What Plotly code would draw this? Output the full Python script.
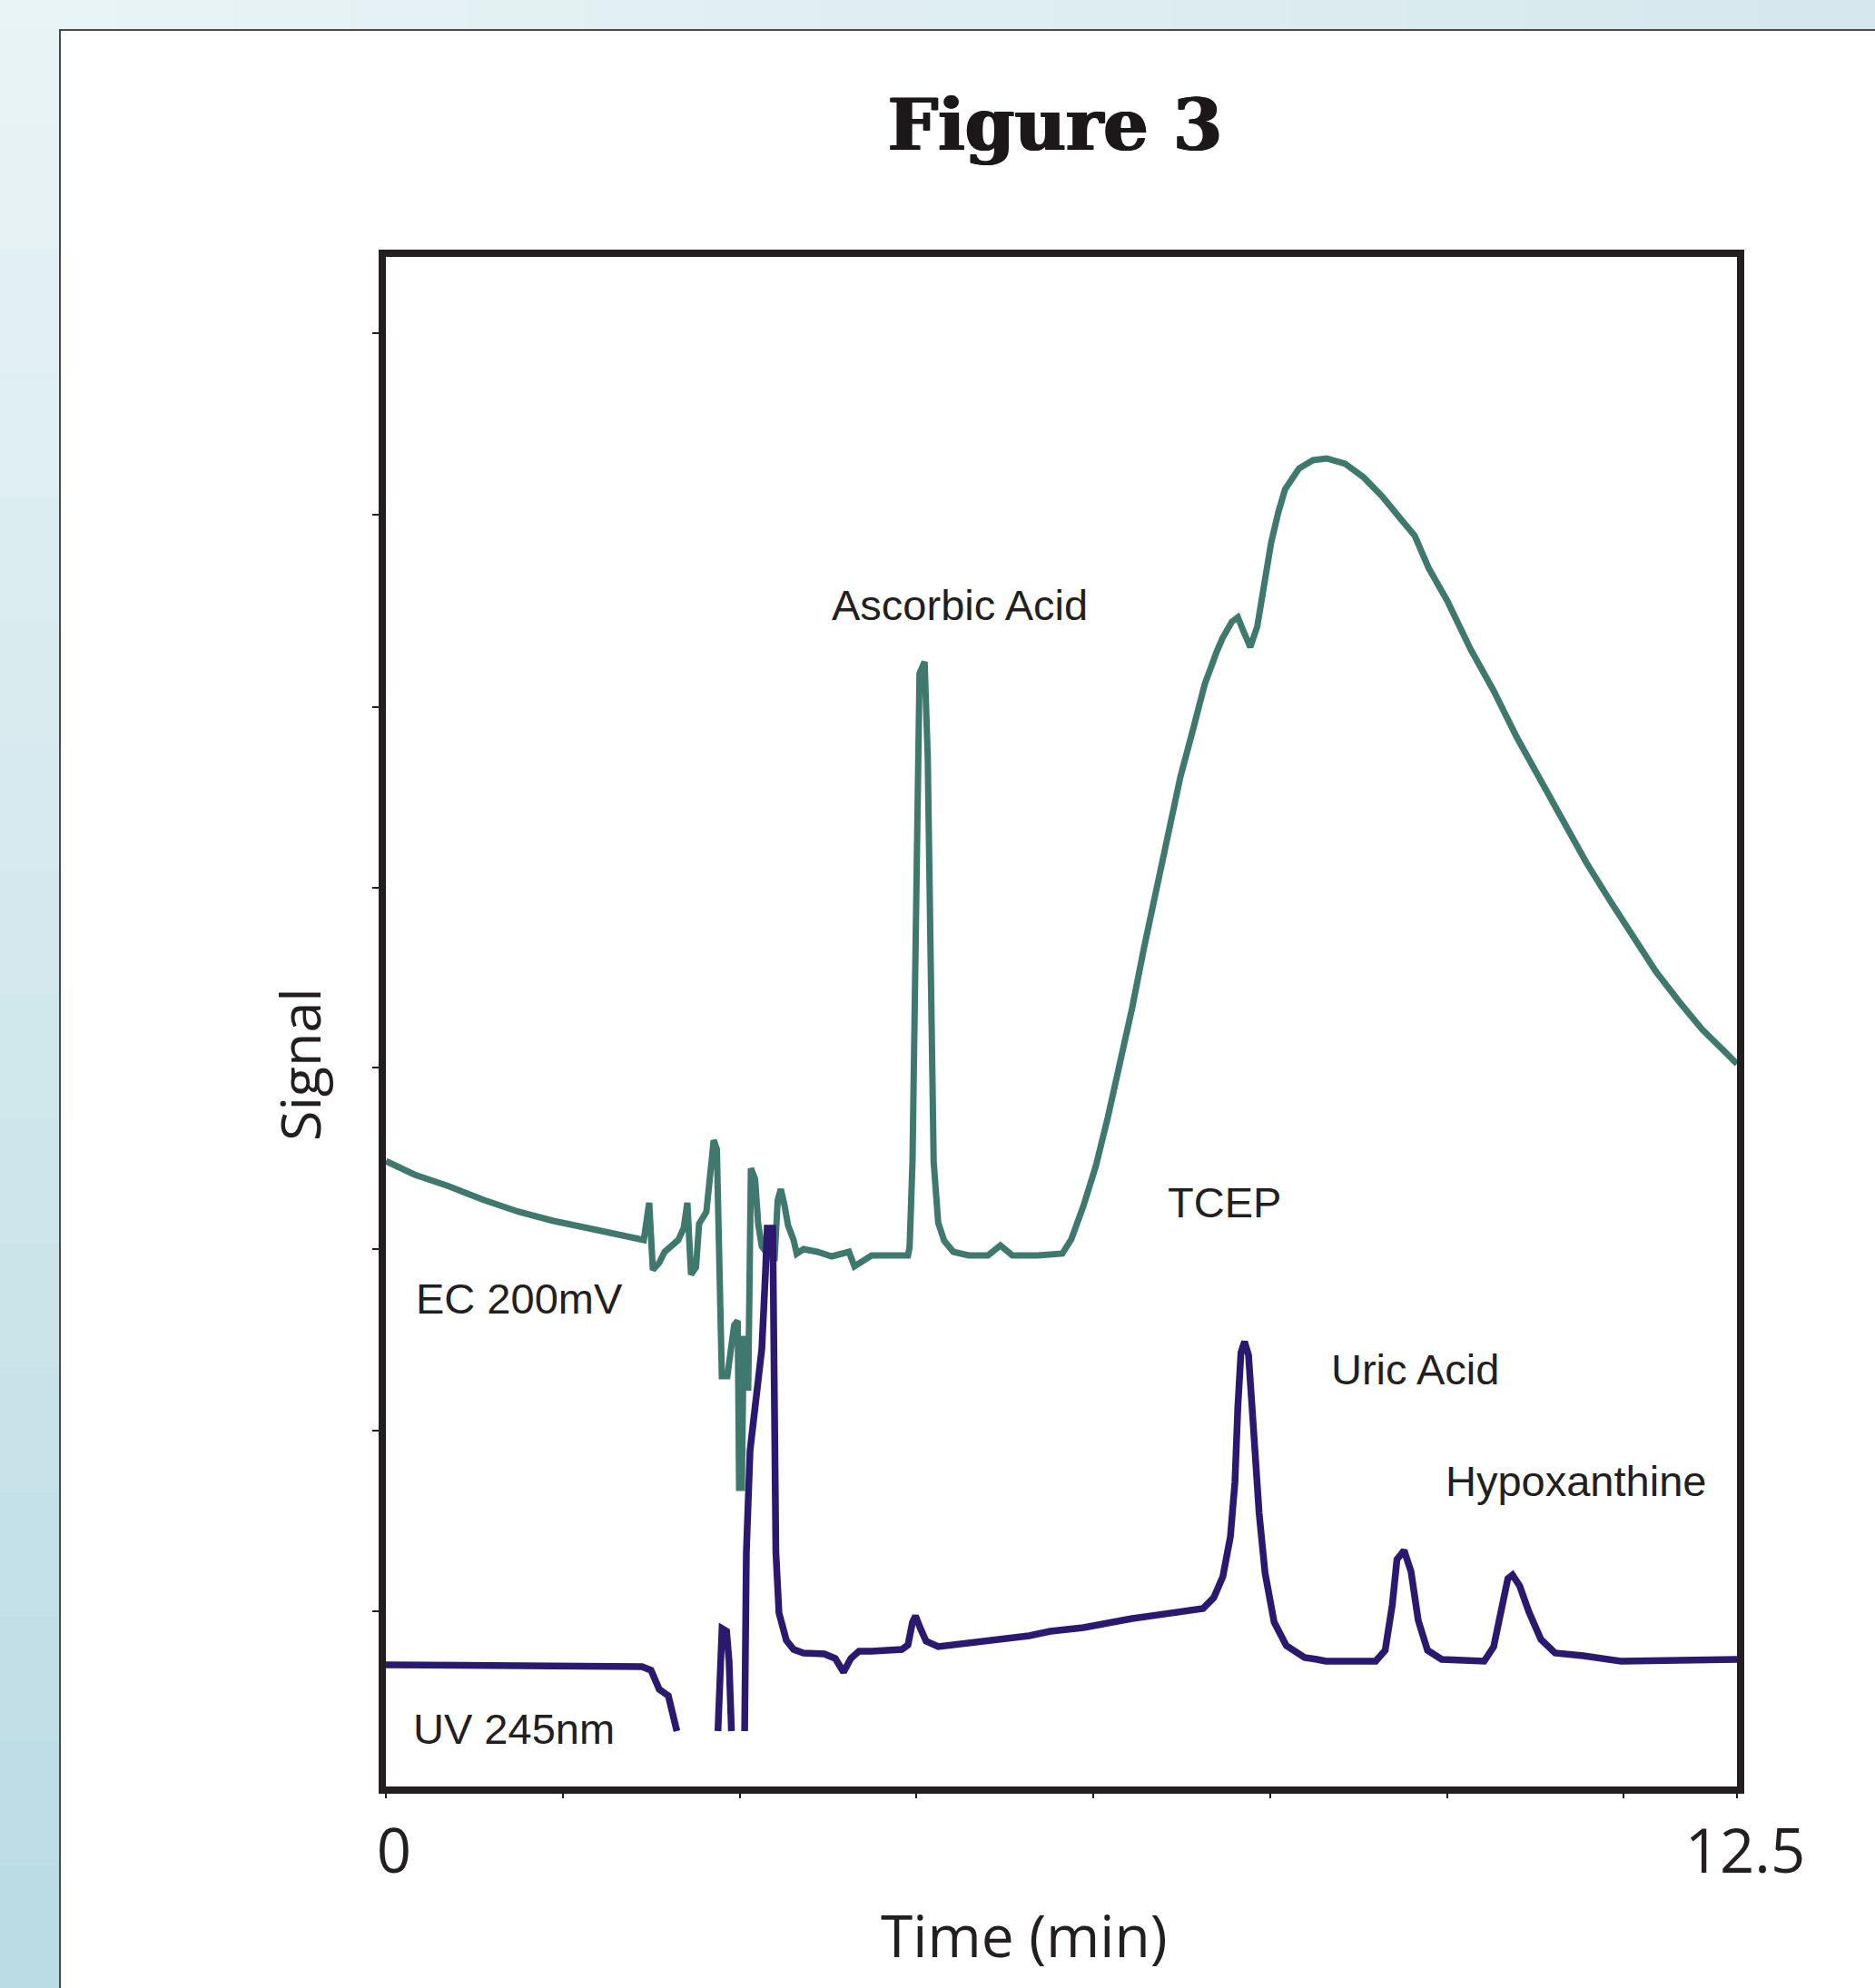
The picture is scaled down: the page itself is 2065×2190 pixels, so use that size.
import plotly.graph_objects as go

# ---------------- data ----------------
# EC 200mV trace: (time in min, signal in arbitrary units)
ec_points = [
    (0.000, 68.9), (0.265, 67.4), (0.587, 66.1), (0.908, 64.6), (1.230, 63.3),
    (1.551, 62.3), (1.873, 61.5), (2.194, 60.7), (2.386, 60.2),
    (2.436, 64.3), (2.470, 56.9), (2.529, 57.7), (2.579, 58.9), (2.705, 60.2),
    (2.755, 61.5), (2.789, 64.3), (2.823, 56.4), (2.869, 57.2), (2.898, 62.0),
    (2.965, 63.3), (2.999, 67.9), (3.033, 71.2), (3.062, 70.2), (3.108, 45.2),
    (3.159, 45.2), (3.192, 47.7), (3.222, 50.8), (3.255, 51.3), (3.268, 32.9),
    (3.293, 32.9), (3.310, 49.3), (3.335, 49.3), (3.352, 43.6), (3.377, 68.1),
    (3.416, 66.9), (3.444, 62.0), (3.478, 59.5), (3.528, 58.7), (3.595, 57.9),
    (3.625, 64.6), (3.654, 65.8), (3.688, 64.0), (3.721, 61.8), (3.772, 60.2),
    (3.801, 58.7), (3.864, 59.2), (3.990, 58.9), (4.125, 58.4), (4.284, 58.9),
    (4.335, 57.3), (4.410, 57.9), (4.494, 58.5), (4.830, 58.5), (4.845, 59.4),
    (4.872, 68.8), (4.900, 91.1), (4.920, 113.4), (4.937, 122.6), (4.984, 123.9),
    (5.013, 113.4), (5.040, 91.1), (5.068, 68.8), (5.110, 62.1), (5.166, 60.1),
    (5.250, 58.9), (5.391, 58.5), (5.570, 58.5), (5.685, 59.6), (5.796, 58.5),
    (6.032, 58.5), (6.258, 58.7), (6.342, 60.3), (6.452, 63.9), (6.567, 68.3),
    (6.679, 73.7), (6.788, 79.5), (6.903, 85.7), (7.014, 92.4), (7.124, 98.7),
    (7.239, 105.4), (7.350, 111.2), (7.460, 116.1), (7.575, 121.4), (7.686, 125.0),
    (7.740, 126.5), (7.826, 128.3), (7.882, 128.8), (7.933, 127.3), (7.997, 125.5),
    (8.062, 127.8), (8.126, 132.9), (8.190, 137.0), (8.255, 140.3), (8.319, 142.9),
    (8.448, 145.2), (8.577, 146.1), (8.703, 146.3), (8.876, 145.7), (9.047, 144.2),
    (9.219, 142.1), (9.391, 139.6), (9.518, 137.8), (9.648, 134.2), (9.820, 130.6),
    (10.034, 125.3), (10.249, 120.7), (10.462, 115.6), (10.677, 111.0), (10.887, 106.4),
    (11.105, 101.8), (11.319, 97.7), (11.534, 93.6), (11.748, 89.8), (11.962, 86.5),
    (12.177, 83.4), (12.391, 80.9), (12.500, 79.6),
]

# UV 245nm trace (None = off-scale, not drawn)
uv_points = [
    (0.000, 13.4), (1.000, 13.3), (2.000, 13.3), (2.369, 13.2), (2.453, 12.8),
    (2.529, 10.7), (2.613, 10.0), (2.663, 7.9), (2.692, 6.1), (None, None),
    (3.072, 6.1), (3.095, 15.8), (3.110, 17.4), (3.152, 17.1), (3.175, 13.8),
    (3.197, 6.1), (None, None),
    (3.319, 6.1), (3.335, 25.8), (3.369, 37.0), (3.402, 40.1), (3.444, 44.1),
    (3.478, 48.2), (3.511, 56.4), (3.528, 61.5), (3.579, 61.5), (3.595, 46.2),
    (3.608, 25.8), (3.637, 19.1), (3.705, 16.1), (3.772, 15.1), (3.864, 14.7),
    (4.057, 14.6), (4.158, 14.1), (4.234, 12.6), (4.301, 14.1), (4.377, 14.9),
    (4.494, 14.9), (4.774, 15.1), (4.830, 15.6), (4.872, 18.1), (4.900, 18.8),
    (4.942, 17.5), (4.998, 16.0), (5.110, 15.4), (5.559, 16.0), (5.950, 16.6),
    (6.147, 17.1), (6.454, 17.5), (6.903, 18.5), (7.183, 19.0), (7.407, 19.4),
    (7.560, 19.6), (7.659, 20.8), (7.743, 23.1), (7.813, 27.5), (7.855, 33.5),
    (7.882, 41.8), (7.911, 47.8), (7.944, 49.0), (7.981, 47.5), (8.023, 40.1),
    (8.079, 30.1), (8.134, 23.5), (8.218, 18.1), (8.331, 15.5), (8.499, 14.2),
    (8.614, 14.0), (8.695, 13.8), (9.157, 13.8), (9.245, 15.0), (9.311, 20.0),
    (9.354, 25.0), (9.420, 26.0), (9.484, 23.7), (9.551, 18.3), (9.637, 15.0),
    (9.768, 14.0), (10.161, 13.8), (10.249, 15.4), (10.314, 19.6), (10.380, 22.9),
    (10.423, 23.3), (10.489, 22.1), (10.576, 19.2), (10.686, 16.2), (10.817, 14.7),
    (11.078, 14.4), (11.427, 13.8), (12.500, 14.0),
]

ec_time = [p[0] for p in ec_points]
ec_signal = [p[1] for p in ec_points]
uv_time = [p[0] for p in uv_points]
uv_signal = [p[1] for p in uv_points]

# peak / trace labels: (text, time, signal)
labels = [
    ("Ascorbic Acid", 5.309, 130.2),
    ("TCEP", 7.762, 64.4),
    ("EC 200mV", 1.235, 53.8),
    ("Uric Acid", 9.518, 46.0),
    ("Hypoxanthine", 11.013, 33.7),
    ("UV 245nm", 1.184, 6.4),
]

x_tick_vals = [0, 1.636, 3.272, 4.908, 6.544, 8.180, 9.816, 11.452, 12.5]
x_tick_text = ["0", "", "", "", "", "", "", "", "12.5"]
y_tick_vals = [19.3, 39.2, 59.2, 79.2, 99.0, 118.9, 140.1, 160.1]

EC_COLOR = "#3f786c"
UV_COLOR = "#2a196f"
INK = "#231f20"

# ---------------- figure ----------------
W, H = 2065, 2190
ML, MR, MT, MB = 425, 152, 283, 222
PW, PH = W - ML - MR, H - MT - MB


def px_x(p):
    return (p - ML) / PW


def px_y(p):
    return (H - MB - p) / PH


fig = go.Figure()
fig.add_trace(go.Scatter(x=ec_time, y=ec_signal, mode="lines", name="EC 200mV",
                         line=dict(color=EC_COLOR, width=7), showlegend=False,
                         hoverinfo="x+y"))
fig.add_trace(go.Scatter(x=uv_time, y=uv_signal, mode="lines", name="UV 245nm",
                         line=dict(color=UV_COLOR, width=7.5), connectgaps=False,
                         showlegend=False, hoverinfo="x+y"))

shapes = []
# light blue page background bands (gradient approximation)
n = 16
c_tl, c_tr, c_bl = (234, 244, 246), (213, 232, 237), (186, 219, 228)
for i in range(n):
    f0, f1 = i / n, (i + 1) / n
    col = tuple(round(c_tl[k] + (c_bl[k] - c_tl[k]) * (f0 + f1) / 2) for k in range(3))
    shapes.append(dict(type="rect", xref="paper", yref="paper", layer="below",
                       x0=px_x(0), x1=px_x(67), y0=px_y(f0 * H), y1=px_y(f1 * H),
                       fillcolor="rgb(%d,%d,%d)" % col, line=dict(width=0)))
    col2 = tuple(round(c_tl[k] + (c_tr[k] - c_tl[k]) * (f0 + f1) / 2) for k in range(3))
    shapes.append(dict(type="rect", xref="paper", yref="paper", layer="below",
                       x0=px_x(f0 * W), x1=px_x(f1 * W), y0=px_y(0), y1=px_y(34),
                       fillcolor="rgb(%d,%d,%d)" % col2, line=dict(width=0)))
# white panel
shapes.append(dict(type="rect", xref="paper", yref="paper", layer="below",
                   x0=px_x(66), x1=px_x(W + 10), y0=px_y(33), y1=px_y(H + 10),
                   fillcolor="white", line=dict(width=0)))
shapes.append(dict(type="line", xref="paper", yref="paper", layer="below",
                   x0=px_x(66), x1=px_x(66), y0=px_y(32), y1=px_y(H + 10),
                   line=dict(color="#4a4a4a", width=2)))
shapes.append(dict(type="line", xref="paper", yref="paper", layer="below",
                   x0=px_x(65), x1=px_x(W + 10), y0=px_y(33), y1=px_y(33),
                   line=dict(color="#4a4a4a", width=2)))

annotations = [
    dict(text=t, x=x, y=y, xref="x", yref="y", showarrow=False,
         xanchor="center", yanchor="middle",
         font=dict(family="Liberation Sans, Arial, sans-serif", size=47, color=INK))
    for (t, x, y) in labels
]
# axis titles (placed off-centre as in the reference)
annotations.append(dict(text="Time (min)", xref="paper", yref="paper",
                        x=px_x(1128), y=px_y(2131), showarrow=False,
                        xanchor="center", yanchor="middle",
                        font=dict(family="Open Sans, sans-serif", size=64, color=INK)))
annotations.append(dict(text="Signal", xref="paper", yref="paper",
                        x=px_x(329), y=px_y(1173), showarrow=False, textangle=-90,
                        xanchor="center", yanchor="middle",
                        font=dict(family="Open Sans, sans-serif", size=61, color=INK)))

fig.update_layout(
    width=W, height=H,
    margin=dict(l=ML, r=MR, t=MT, b=MB, autoexpand=False),
    paper_bgcolor="rgb(222,237,241)",
    plot_bgcolor="white",
    font=dict(family="Open Sans, sans-serif", color=INK),
    title=dict(text="Figure 3", x=1162 / W, xanchor="center", xref="container",
               y=1 - 138 / H, yanchor="middle", yref="container",
               font=dict(family="DejaVu Serif, serif", size=78, color="#1c1819",
                         weight="bold",
                         shadow="1.2px 0px 0px #1c1819, -1.2px 0px 0px #1c1819")),
    xaxis=dict(range=[0, 12.5], showline=True, linewidth=8, linecolor=INK,
               mirror=True, showgrid=False, zeroline=False,
               ticks="outside", ticklen=5, tickwidth=2, tickcolor=INK,
               tickvals=x_tick_vals, ticktext=x_tick_text,
               tickfont=dict(family="Open Sans, sans-serif", size=67, color=INK),
               ticklabelstandoff=2, ticklabelshift=9,
               fixedrange=True),
    yaxis=dict(range=[0, 168.5], showline=True, linewidth=8, linecolor=INK,
               mirror=True, showgrid=False, zeroline=False,
               ticks="outside", ticklen=7, tickwidth=2, tickcolor=INK,
               tickvals=y_tick_vals, showticklabels=False,
               fixedrange=True),
    shapes=shapes,
    annotations=annotations,
    showlegend=False,
)

fig.write_html(
    "out.html",
    config={"displayModeBar": False},
    post_script="document.body.style.margin='0';document.body.style.padding='0';",
)
